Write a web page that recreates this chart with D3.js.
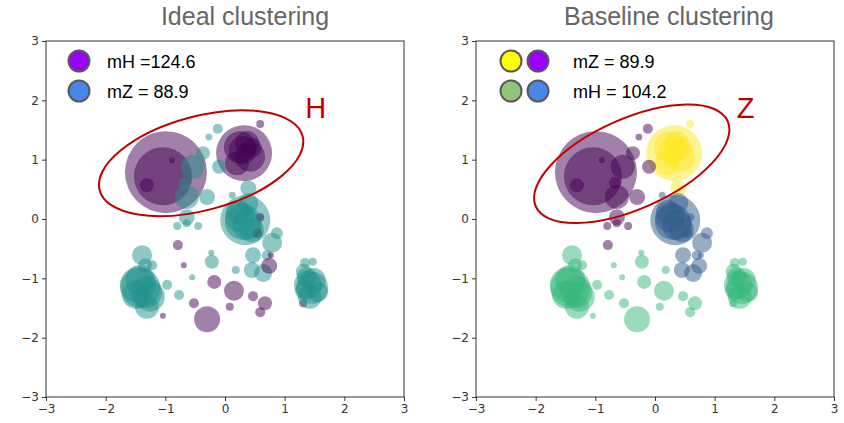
<!DOCTYPE html>
<html><head><meta charset="utf-8">
<script src="https://cdn.jsdelivr.net/npm/d3@7"></script>
<style>
body{margin:0;background:#fff;}
svg{display:block;}
</style></head>
<body>
<svg id="chart" width="844" height="423"></svg>
<script>
// ---- data ----
const xs = [-0.99,-1.04,-1.31,-0.89,0.32,0.25,0.42,0.20,0.37,0.59,
  -0.12,-0.27,-0.37,-0.54,-0.10,-0.67,-0.64,-0.30,0.12,0.39,
  -0.64,-0.80,-0.64,-0.45,0.34,0.25,0.37,0.39,0.87,0.79,
  0.47,0.45,0.64,0.70,0.59,0.54,0.74,0.77,-0.79,-0.69,
  -0.18,0.15,0.47,0.67,0.59,0.08,-0.52,-0.30,-1.04,1.31,
  -0.23,-0.22,-0.55,-0.97,-0.77,0.18,-1.42,-1.39,-1.34,-1.22,
  -1.31,-1.42,-1.26,-1.49,1.46,1.34,1.47,1.37,1.42,1.34,
  0.30,0.22,0.45,1.49,1.39,1.56,1.32,-1.46,-1.32,0.30,0.45];
const ys = [0.79,0.72,0.57,0.99,1.11,1.21,1.05,0.94,1.28,1.60,
  1.52,1.38,1.11,0.88,0.88,0.61,0.37,0.37,0.40,0.52,
  0.03,-0.12,-0.07,-0.12,-0.02,0.03,-0.10,0.27,-0.24,-0.40,
  -0.61,-0.86,-0.91,-0.61,0.03,-0.24,-0.79,-0.61,-0.44,-0.78,
  -1.06,-1.21,-1.30,-1.42,-1.57,-1.48,-1.42,-1.69,-1.63,-1.42,
  -0.57,-0.72,-0.98,-1.11,-1.28,-0.86,-1.16,-0.61,-0.78,-0.78,
  -1.48,-1.03,-1.31,-1.28,-1.16,-0.74,-0.72,-0.98,-1.31,-1.20,
  -0.05,0.12,-0.19,-1.03,-1.11,-1.23,-0.89,-1.11,-1.23,1.16,1.20];
const sizes = [1681,841,49,9,784,256,225,144,144,16,
  25,12,49,144,49,36,144,64,12,64,
  64,16,16,16,625,225,225,100,36,100,
  64,64,81,25,16,25,64,9,25,9,
  49,100,25,49,25,16,25,169,9,16,
  9,49,9,25,25,16,400,100,49,25,
  144,225,225,196,256,25,16,100,144,100,
  324,144,144,144,196,100,64,324,256,196,100];
// ideal clustering: 0 = H, 1 = Z
const idealLabels = [0,0,0,0,0,0,0,0,0,0,
  1,1,1,1,1,1,1,1,1,1,
  1,1,1,1,1,1,1,1,1,1,
  1,1,1,1,0,0,0,0,0,0,
  0,0,0,0,0,0,0,0,0,0,
  1,1,1,1,1,1,1,1,1,1,
  1,1,1,1,1,1,1,1,1,1,
  1,1,1,1,1,1,1,1,1,0,0];
// baseline clustering: 0 purple, 1 blue, 2 green, 3 yellow
const baselineLabels = [0,0,0,0,3,3,3,3,3,3,
  0,0,0,0,0,0,0,0,1,3,
  0,0,0,0,1,1,1,1,1,1,
  1,1,1,1,1,1,1,1,0,2,
  2,2,2,2,2,2,2,2,2,2,
  2,2,2,2,2,2,2,2,2,2,
  2,2,2,2,2,2,2,2,2,2,
  1,1,1,2,2,2,2,2,2,3,3];
const ticks = [-3,-2,-1,0,1,2,3];
const titles = ["Ideal clustering","Baseline clustering"];
const idealLegend = ["mH =124.6","mZ = 88.9"];
const baselineLegend = ["mZ = 89.9","mH = 104.2"];
const annotations = ["H","Z"];

// ---- drawing ----
const svg = d3.select("#chart");
const points = xs.map((x,i)=>({x, y: ys[i], s: sizes[i], a: idealLabels[i], b: baselineLabels[i]}));
const rScale = d3.scaleSqrt().domain([0,1600]).range([0,40]);
const idealColor = d3.scaleOrdinal().domain([0,1]).range(["#440154","#21918c"]);
const baseColor = d3.scaleOrdinal().domain([0,1,2,3]).range(["#440154","#2f5b89","#35b779","#fde725"]);

const panels = [
  {x0:46, x1:404, title: titles[0], tx:245, key:"a", color:idealColor,
   ell:{cx:-0.40, cy:0.94, rx:105, ry:47, rot:-15}, ann:annotations[0], annX:1.52, annY:1.70},
  {x0:476, x1:834, title: titles[1], tx:669, key:"b", color:baseColor,
   ell:{cx:-0.39, cy:0.93, rx:105, ry:45, rot:-24}, ann:annotations[1], annX:1.52, annY:1.70}
];
const yTop = 41, yBot = 397;

panels.forEach((p, pi) => {
  const x = d3.scaleLinear().domain([-3,3]).range([p.x0, p.x1]);
  const y = d3.scaleLinear().domain([-3,3]).range([yBot, yTop]);
  const g = svg.append("g");

  g.append("text").attr("x", p.tx).attr("y", 25).attr("text-anchor","middle")
    .attr("font-family","Liberation Sans, Arial, sans-serif").attr("font-size",25)
    .attr("fill","#666").text(p.title);

  const cid = "clip"+pi;
  svg.append("clipPath").attr("id",cid).append("rect")
    .attr("x",p.x0).attr("y",yTop).attr("width",p.x1-p.x0).attr("height",yBot-yTop);

  g.append("g").attr("clip-path",`url(#${cid})`).selectAll("circle").data(points).join("circle")
    .attr("cx", d=>x(d.x)).attr("cy", d=>y(d.y)).attr("r", d=>rScale(d.s))
    .attr("fill", d=>p.color(d[p.key])).attr("fill-opacity",0.5);

  const fmt = d=>d<0?"\u2212"+Math.abs(d):d;
  const ax = g.append("g").attr("transform",`translate(0,${yBot})`)
    .call(d3.axisBottom(x).tickValues(ticks).tickSize(4).tickPadding(3).tickFormat(fmt));
  const ay = g.append("g").attr("transform",`translate(${p.x0},0)`)
    .call(d3.axisLeft(y).tickValues(ticks).tickSize(4).tickPadding(3).tickFormat(fmt));
  [ax, ay].forEach(a => {
    a.select(".domain").remove();
    a.selectAll("line").attr("stroke","#333");
    a.selectAll("text").attr("font-family","DejaVu Sans, sans-serif").attr("font-size",12).attr("fill","#333");
  });
  g.append("rect").attr("x",p.x0).attr("y",yTop).attr("width",p.x1-p.x0).attr("height",yBot-yTop)
    .attr("fill","none").attr("stroke","#333").attr("stroke-width",1);

  g.append("ellipse").attr("cx",0).attr("cy",0).attr("rx",p.ell.rx).attr("ry",p.ell.ry)
    .attr("transform",`translate(${x(p.ell.cx)},${y(p.ell.cy)}) rotate(${p.ell.rot})`)
    .attr("fill","none").attr("stroke","#c00000").attr("stroke-width",2);
  g.append("text").attr("x", x(p.annX)).attr("y", y(p.annY)).attr("text-anchor","middle")
    .attr("font-family","Liberation Sans, Arial, sans-serif").attr("font-size",29)
    .attr("fill","#c00000").text(p.ann);
});

const legendFont = "Liberation Sans, Arial, sans-serif";
function legendCircle(cx, cy, fill){
  svg.append("circle").attr("cx",cx).attr("cy",cy).attr("r",10.5)
    .attr("fill",fill).attr("stroke","#595959").attr("stroke-width",2);
}
const rowY = [61, 91];
const idealLegendColors = ["#9900ff","#4a86e8"];
idealLegend.forEach((t,i)=>{
  legendCircle(79, rowY[i], idealLegendColors[i]);
  svg.append("text").attr("x",107).attr("y",rowY[i]+7).attr("font-family",legendFont)
    .attr("font-size",18).attr("fill","#000").text(t);
});
const baseLegendColors = [["#ffff00","#9900ff"],["#93c47d","#4a86e8"]];
baselineLegend.forEach((t,i)=>{
  legendCircle(511, rowY[i], baseLegendColors[i][0]);
  legendCircle(538, rowY[i], baseLegendColors[i][1]);
  svg.append("text").attr("x",573).attr("y",rowY[i]+7).attr("font-family",legendFont)
    .attr("font-size",18).attr("fill","#000").text(t);
});
</script>
</body></html>
